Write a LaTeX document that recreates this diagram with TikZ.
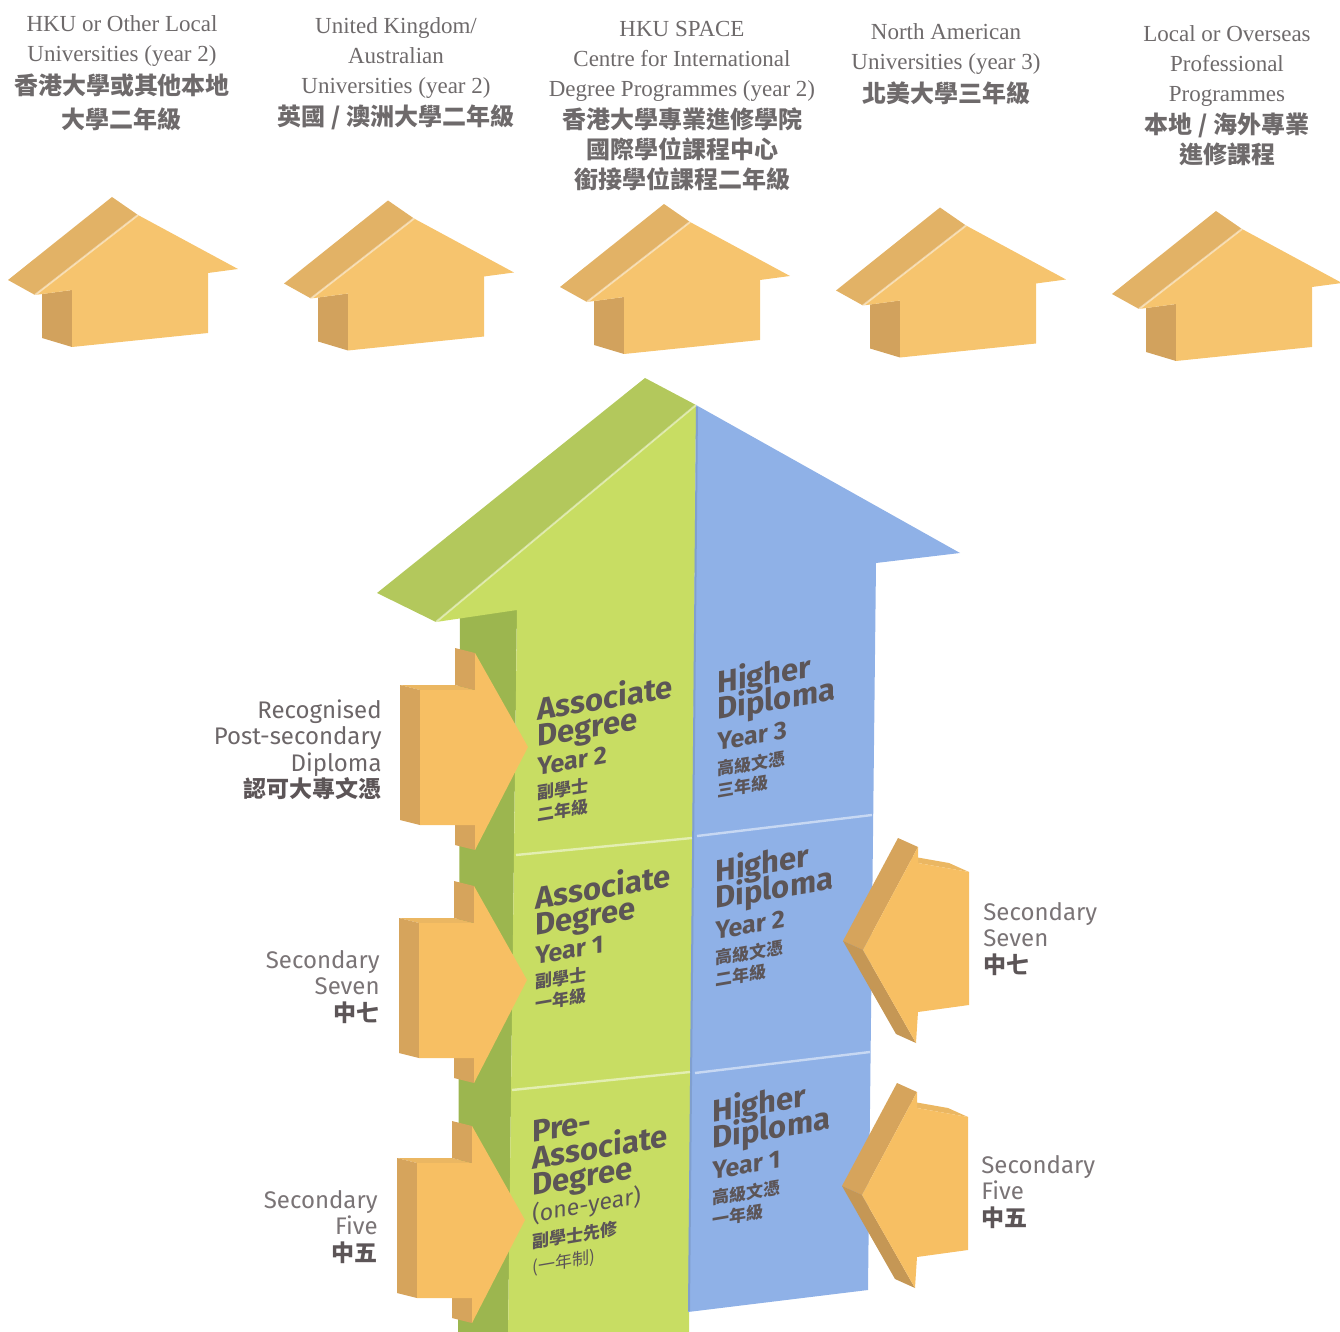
\documentclass[tikz,border=0pt]{standalone}
\usepackage{fontspec}
\setmainfont{Liberation Serif}
\newfontfamily\lblfont{Fira Sans}
\newfontfamily\cjk{Noto Sans CJK TC}

\definecolor{titlegrey}{HTML}{6E6A6B}
\definecolor{labelgrey}{HTML}{7A7476}
\definecolor{textgrey}{HTML}{5C5557}
\definecolor{housefront}{HTML}{F6C46E}
\definecolor{houseroof}{HTML}{E2B266}
\definecolor{houseside}{HTML}{D2A25D}
\definecolor{arrowfront}{HTML}{F7BF63}
\definecolor{arrowtop}{HTML}{EBB762}
\definecolor{arrowside}{HTML}{D6A45C}
\definecolor{greenfront}{HTML}{C8DD63}
\definecolor{greenroof}{HTML}{B3C85C}
\definecolor{greenside}{HTML}{9CB64F}
\definecolor{bluefront}{HTML}{8FB1E7}

\newcommand\zhb{\cjk\bfseries\fontsize{12}{15}\selectfont}
\newcommand\zhl{\cjk\bfseries\fontsize{11.5}{13.25}\selectfont\color{textgrey}}
\newcommand\zhs{\cjk\bfseries\fontsize{8.5}{13.25}\selectfont}
\newcommand\zhr{\cjk\mdseries\fontsize{8.5}{13.25}\selectfont}
\newcommand\yr{\fontsize{12.5}{13.25}\selectfont}
\newcommand\yrr{\mdseries\fontsize{11.5}{13.25}\selectfont}
\newcommand\tightlines{\lineskiplimit=-20pt\relax}

% arrow coming in from the left, tip at #1
\newcommand\inleft[1]{%
  \begin{scope}[shift={#1}]
    \fill[arrowtop] (-108,-57) -- (-53,-57) -- (-73,-62) -- (-128,-62) -- cycle;
    \fill[arrowside] (-108,-57) -- (-108,78) -- (-128,73) -- (-128,-62) -- cycle;
    \fill[arrowside] (-53,-94) -- (-53,-57) -- (-73,-62) -- (-73,-99) -- cycle;
    \fill[arrowside] (-53,78) -- (-53,103) -- (-73,98) -- (-73,73) -- cycle;
    \fill[arrowfront] (0,0) -- (-53,-94) -- (-53,-57) -- (-108,-57) -- (-108,78)
      -- (-53,78) -- (-53,103) -- cycle;
  \end{scope}}
% arrow coming in from the right, tip at #1
\newcommand\inright[1]{%
  \begin{scope}[shift={#1}]
    \fill[arrowtop] (55,-87) -- (106,-78) -- (86,-87) -- (35,-96) -- cycle;
    \fill[arrowside] (0,0) -- (55,-103) -- (35,-112) -- (-20,-9) -- cycle;
    \fill[arrowside!92!black] (0,0) -- (53,93) -- (33,84) -- (-20,-9) -- cycle;
    \fill[arrowfront] (0,0) -- (55,-103) -- (55,-87) -- (106,-78) -- (106,55)
      -- (55,62) -- (53,93) -- cycle;
  \end{scope}}

\tikzset{
  title/.style={anchor=north, align=center, inner sep=0pt, text=titlegrey,
    font=\fontsize{11.5}{15}\selectfont, execute at begin node=\tightlines},
  blocktext/.style={anchor=north west, align=left, inner sep=0pt, yslant=0.17,
    text=textgrey, font=\lblfont\bfseries\fontsize{15.5}{13.25}\selectfont,
    execute at begin node=\tightlines},
  sidelabel/.style={inner sep=0pt, text=labelgrey,
    font=\lblfont\fontsize{12}{13.25}\selectfont,
    execute at begin node=\tightlines},
  seam/.style={line width=1.2pt, draw=white, opacity=0.5},
  ridge/.style={line width=1pt, draw=white, opacity=0.45},
}

\begin{document}
\begin{tikzpicture}[x=0.5pt, y=-0.5pt]
  \useasboundingbox (0,0) rectangle (1340,1332);
  \clip (0,0) rectangle (1340,1332);

  % destinations
  \foreach \i in {0,...,4} {
    \begin{scope}[shift={(276*\i,3.5*\i)}]
      \fill[houseside] (72,290) -- (72,347) -- (42,338) -- (42,294) -- cycle;
      \fill[houseroof] (138,215) -- (35,295) -- (8,280) -- (112,197) -- cycle;
      \fill[housefront] (35,295) -- (138,215) -- (238,269) -- (208,273) -- (208,333)
        -- (72,347) -- (72,290) -- cycle;
      \draw[ridge] (35,295) -- (138,215);
    \end{scope}
  }

  \node[title] (tHKU) at (122,15) {HKU or Other Local\\Universities (year 2)\\[1.5pt]
    \zhb 香港大學或其他本地\\[2pt]\zhb 大學二年級};
  \node[title] (tUK) at (396,17) {United Kingdom/\\Australian\\Universities (year 2)\\[1pt]
    \zhb 英國 / 澳洲大學二年級};
  \node[title] (tSPACE) at (682,21) {HKU SPACE\\Centre for International\\Degree Programmes (year 2)\\[1pt]
    \zhb 香港大學專業進修學院\\ \zhb 國際學位課程中心\\ \zhb 銜接學位課程二年級};
  \node[title] (tNA) at (946,23) {North American\\Universities (year 3)\\[1.5pt]
    \zhb 北美大學三年級};
  \node[title] (tPRO) at (1227,25) {Local or Overseas\\Professional\\Programmes\\[1pt]
    \zhb 本地 / 海外專業\\ \zhb 進修課程};

  % the big arrow
  \fill[greenroof] (377,593) -- (645,378) -- (696,405) -- (436,622) -- cycle;
  \fill[greenside] (460,615) -- (517,608) -- (508,1340) -- (458,1340) -- cycle;
  \fill[greenfront] (436,622) -- (696,405) -- (689,1340) -- (508,1340) -- (517,610) -- cycle;
  \fill[bluefront] (696,405) -- (960,553) -- (876,563) -- (868,1290) -- (688,1312) -- cycle;
  \draw[ridge] (436,622) -- (696,405);
  \draw[bluefront!75!black, line width=1pt, opacity=0.4] (697,407) -- (689,1311);
  \draw[seam] (516,855) -- (692,838);
  \draw[seam] (512,1090) -- (690,1072);
  \draw[seam] (697,836) -- (872,815);
  \draw[seam] (695,1073) -- (870,1052);

  % entry arrows
  \inleft{(528,747)}
  \inleft{(527,980)}
  \inleft{(525,1220)}
  \inright{(863,950)}
  \inright{(862,1195)}

  % programmes
  \node[blocktext] (ad2) at (537,695) {Associate\\Degree\\[1pt]\yr Year 2\\[-1pt]\zhs 副學士\\[-2.5pt]\zhs 二年級};
  \node[blocktext] (ad1) at (535,884) {Associate\\Degree\\[1pt]\yr Year 1\\[-1pt]\zhs 副學士\\[-2.5pt]\zhs 一年級};
  \node[blocktext] (pad) at (532,1121) {Pre-\\Associate\\Degree\\ \yrr (one-year)\\
    \zhs 副學士先修\\[-1pt]\zhr (一年制)};
  \node[blocktext] (hd3) at (717,668) {Higher\\Diploma\\[2pt]\yr Year 3\\[-0.5pt]\zhs 高級文憑\\[-2.5pt]\zhs 三年級};
  \node[blocktext] (hd2) at (715,857) {Higher\\Diploma\\[2pt]\yr Year 2\\[-0.5pt]\zhs 高級文憑\\[-2.5pt]\zhs 二年級};
  \node[blocktext] (hd1) at (712,1097) {Higher\\Diploma\\[2pt]\yr Year 1\\[-0.5pt]\zhs 高級文憑\\[-2.5pt]\zhs 一年級};

  % entry qualifications
  \node[sidelabel, anchor=north east, align=right, text=textgrey!90] (rpd) at (382,699)
    {Recognised\\Post-secondary\\Diploma\\ \zhl 認可大專文憑};
  \node[sidelabel, anchor=north east, align=right] (s7l) at (380,950)
    {Secondary\\Seven\\ \zhl 中七};
  \node[sidelabel, anchor=north east, align=right] (s5l) at (378,1190)
    {Secondary\\Five\\ \zhl 中五};
  \node[sidelabel, anchor=north west, align=left] (s7r) at (983,902)
    {Secondary\\Seven\\ \zhl 中七};
  \node[sidelabel, anchor=north west, align=left] (s5r) at (981,1155)
    {Secondary\\Five\\ \zhl 中五};
\end{tikzpicture}
\end{document}
